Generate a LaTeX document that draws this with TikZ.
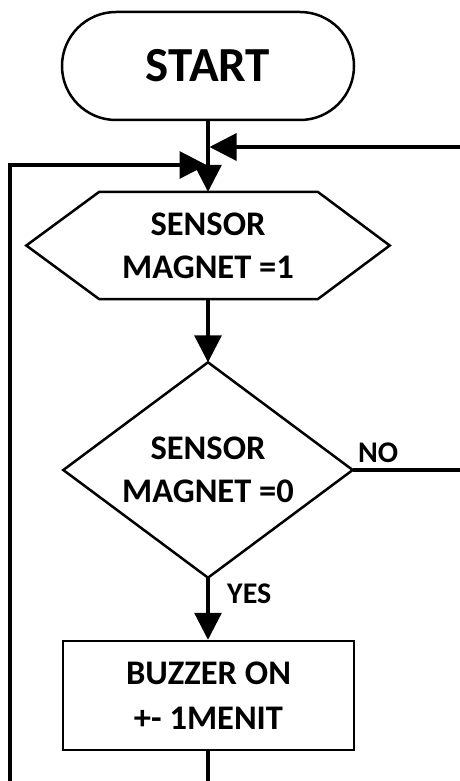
\documentclass[tikz,border=0pt]{standalone}
\usepackage{fontspec}
\setmainfont{Carlito}
\usetikzlibrary{arrows.meta,shapes.misc,calc}
\begin{document}
\begin{tikzpicture}[x=1pt,y=-1pt,
  shapeline/.style={line width=2.5pt, line join=miter},
  flow/.style={line width=3.2pt, -{Triangle[length=27pt,width=27pt]}},
  wire/.style={line width=3.2pt},
  txt/.style={font=\bfseries\fontsize{34.5}{43}\selectfont, align=center, inner sep=0pt},
  lbl/.style={font=\bfseries\fontsize{30}{35}\selectfont, inner sep=0pt, anchor=base west},
]
\useasboundingbox (0,0) rectangle (459,781);

% terminator
\node[rounded rectangle, draw, shapeline, minimum width=292pt, minimum height=108pt,
      font=\bfseries\fontsize{49}{52}\selectfont, inner sep=0pt] (start) at (208,66) {START};

% input hexagon
\node[txt, minimum width=363pt, minimum height=107pt] (chk) at (208,245.5) {SENSOR\\MAGNET =1};
\draw[shapeline] (chk.west) -- ($(chk.north west)+(73,0)$) -- ($(chk.north east)+(-72,0)$)
  -- (chk.east) -- ($(chk.south east)+(-72,0)$) -- ($(chk.south west)+(73,0)$) -- cycle;

% decision
\node[txt, minimum width=289pt, minimum height=215pt] (dec) at (208,470) {SENSOR\\MAGNET =0};
\draw[shapeline] (dec.north) -- (dec.east) -- (dec.south) -- (dec.west) -- cycle;

% action
\node[txt, draw, shapeline, minimum width=291pt, minimum height=109pt,
      font=\bfseries\fontsize{34.5}{45}\selectfont] (act) at (208.5,695.5) {BUZZER ON\\+- 1MENIT};

% loose ends and junction points
\coordinate (jr) at (209.5,147);
\coordinate (jl) at (206.5,165);
\coordinate (rin) at (461,147);
\coordinate (lin) at (10,783);
\coordinate (nout) at (461,470);
\coordinate (aout) at (208,783);

% connectors
\draw[flow] (start.south) -- (start.south |- chk.north);
\draw[flow] (rin) -- (jr);
\draw[flow] (lin) |- (jl);
\draw[flow] (chk.south) -- (chk.south |- dec.north);
\draw[wire] (dec.east) -- (dec.east -| nout);
\draw[flow] (dec.south) -- (dec.south |- act.north);
\draw[wire] (act.south -| dec.south) -- (aout);

% branch labels
\node[lbl] (no) at (358,462) {NO};
\node[lbl] (yes) at (227,603) {YES};
\end{tikzpicture}
\end{document}
